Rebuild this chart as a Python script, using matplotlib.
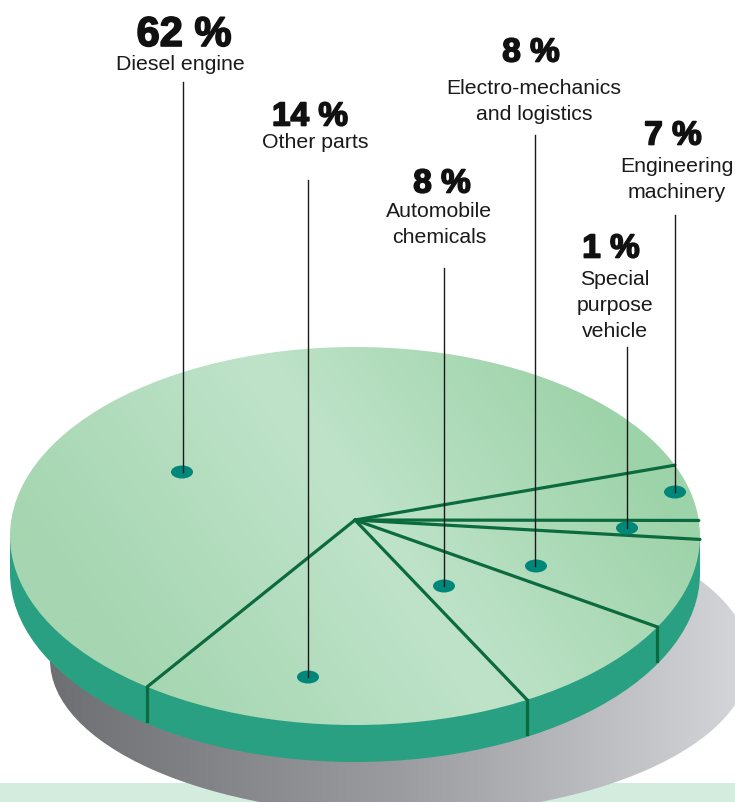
import numpy as np
from matplotlib import pyplot as plt
from matplotlib.patches import Ellipse, Rectangle
import matplotlib.patheffects as pe

# Shares printed on the chart
percent_labels = ["62 %", "14 %", "8 %", "8 %", "1 %", "7 %"]
names = ["Diesel engine", "Other parts", "Automobile\nchemicals",
         "Electro-mechanics\nand logistics", "Special\npurpose\nvehicle",
         "Engineering\nmachinery"]
# Slices as drawn on the rim (they do not follow the printed shares exactly)
drawn_shares = [58.6, 18.6, 8.7, 7.7, 1.6, 4.8]
start_angle = 22

plt.rcParams['font.family'] = ['Liberation Sans', 'DejaVu Sans']
fig = plt.figure(figsize=(7.35, 8.02), dpi=100)
ax = fig.add_axes([0, 0, 1, 1])


def gradient(colors, stops, s):
    rgb = [[int(c[i:i+2], 16) / 255 for i in (1, 3, 5)] for c in colors]
    return np.stack([np.interp(s, stops, [c[k] for c in rgb]) for k in range(3)], axis=-1)


xx, yy = np.meshgrid(np.arange(736), np.arange(803))
cx, cy, a, b = 355, 536, 345, 189
depth = 37
apex = (355, 520)
dark_green = '#0b6b3e'

# pale band at the bottom
ax.add_patch(Rectangle((0, 783), 735, 19, color='#d3ecdd', lw=0, zorder=1))

# shadow
shadow = Ellipse((400, 660), 700, 310, transform=ax.transData)
im = ax.imshow(gradient(['#6e6f73', '#9b9ca0', '#d2d4d7'], [50, 400, 735], xx),
               extent=(0, 735, 802, 0), aspect='auto', zorder=2)
im.set_clip_path(shadow)

# side wall and top surface
ax.add_patch(Ellipse((cx, cy + depth), 2 * a, 2 * b, color='#2aa083', lw=0, zorder=3))
ax.add_patch(Rectangle((cx - a, cy), 2 * a, depth, color='#2aa083', lw=0, zorder=3))
top = Ellipse((cx, cy), 2 * a, 2 * b, transform=ax.transData)
s = (xx - 340) * 0.82 - (yy - 480) * 0.57
im2 = ax.imshow(gradient(['#a5d6b1', '#bfe3c9', '#9dd3a9'], [-280, 0, 260], s),
                extent=(0, 735, 802, 0), aspect='auto', zorder=4)
im2.set_clip_path(top)

# slice boundaries from the shares
edges = start_angle + np.cumsum([0] + drawn_shares) * 3.6
for angle in edges[:-1]:
    t = np.radians(angle)
    px, py = cx + a * np.cos(t), cy - b * np.sin(t)
    ax.plot([apex[0], px], [apex[1], py], color=dark_green, lw=2.3, zorder=5,
            solid_capstyle='round')
    # notch on the front wall
    if np.sin(t) < -0.3:
        ax.plot([px, px], [py, py + depth - 3], color=dark_green, lw=2.3, zorder=5)

# leaders and dots, one per slice
dot_x = [182, 308, 444, 536, 627, 675]
dot_y = [472, 677, 586, 566, 528, 492]
leader_x = [183, 308, 444, 535, 627, 675]
leader_top = [82, 180, 268, 135, 347, 215]
for i in range(6):
    ax.add_patch(Ellipse((dot_x[i], dot_y[i]), 22, 13, color='#00877a', lw=0, zorder=6))
    ax.plot([leader_x[i]] * 2, [leader_top[i], dot_y[i]], color='#1a1a1a', lw=1, zorder=7)

# labels
pct_x = [184, 310, 442, 531, 611, 673]
pct_y = [35, 117, 184, 53, 249, 136]
pct_size = [30, 24, 24, 24, 24, 24]
name_x = [180, 315, 439, 534, 615, 677]
name_y = [63, 141, 210, 87, 278, 165]
line_gap = 26
for i in range(6):
    ax.text(pct_x[i], pct_y[i], percent_labels[i], ha='center', va='center',
            fontsize=pct_size[i], fontweight='bold', color='#111111', zorder=8,
            path_effects=[pe.withStroke(linewidth=1.2, foreground='#111111')])
    for k, line in enumerate(names[i].split("\n")):
        ax.text(name_x[i], name_y[i] + k * line_gap + 7, line, ha='center', va='baseline',
                fontsize=15.3, color='#1a1a1a', zorder=8)

ax.set_xlim(0, 735)
ax.set_ylim(802, 0)
ax.axis('off')
fig.savefig('out.png', dpi=100, facecolor='white')
